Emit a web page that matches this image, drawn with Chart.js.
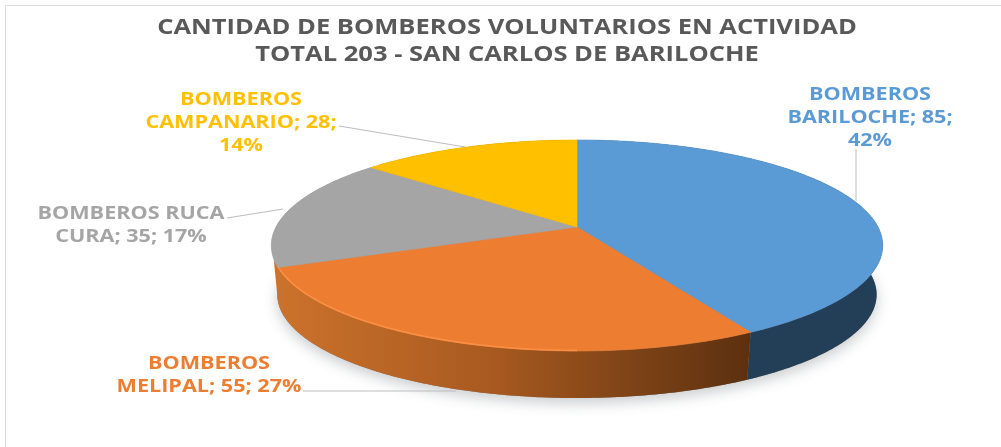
<!DOCTYPE html>
<html><head><meta charset="utf-8">
<style>html,body{margin:0;padding:0;background:#fff}canvas{display:block;filter:blur(0.45px)}</style>
<script src="https://cdn.jsdelivr.net/npm/chart.js@4"></script></head>
<body><canvas id="c" width="1001" height="447"></canvas>
<script>
const categories = ["BOMBEROS BARILOCHE","BOMBEROS MELIPAL","BOMBEROS RUCA CURA","BOMBEROS CAMPANARIO"];
const values = [85,55,35,28];
const percents = [42,27,17,14];
const titleLines = ["CANTIDAD DE BOMBEROS VOLUNTARIOS EN ACTIVIDAD","TOTAL 203 - SAN CARLOS DE BARILOCHE"];
const faceColors = ["#5B9BD5","#ED7D31","#A5A5A5","#FFC000"];
const labelWraps = [
  ["BOMBEROS","BARILOCHE; 85;","42%"],
  ["BOMBEROS","MELIPAL; 55; 27%"],
  ["BOMBEROS RUCA","CURA; 35; 17%"],
  ["BOMBEROS","CAMPANARIO; 28;","14%"]
];
const labelPlace = [{x:870,y:95},{x:209,y:364},{x:131,y:214},{x:241,y:100}];
const leaders = [[[856,149],[856,201]],[[303,391],[456,391]],[[227,218],[283,209]],[[339,126],[465,147]]];

// projected disc geometry
const CX=577, CY=227, A=301, B=102.3, K=0.175, DROP=49.5, SHRINK=0.98;
const TITLE_CX=507, TITLE_STRETCH=1.215, LABEL_STRETCH=1.2;
function rimTop(a){const u=Math.cos(a),v=Math.sin(a),d=1-K*v;return [CX+A*u/d,CY+B*v/d];}
function rimBot(a){const p=rimTop(a);return [CX+(p[0]-CX)*SHRINK,CY+(p[1]-CY)*SHRINK+DROP];}
function rimPath(ctx,fn,a0,a1,first){const n=Math.max(8,Math.ceil(Math.abs(a1-a0)*90));
  for(let i=0;i<=n;i++){const p=fn(a0+(a1-a0)*i/n);(first&&i===0)?ctx.moveTo(p[0],p[1]):ctx.lineTo(p[0],p[1]);}}

const pie3d={id:'pie3d',
  beforeDraw(chart){const c=chart.ctx;c.save();c.fillStyle='#fff';c.fillRect(0,0,chart.width,chart.height);
    c.strokeStyle='#dcdcdc';c.lineWidth=1;c.beginPath();c.moveTo(5.5,447);c.lineTo(5.5,5.5);c.lineTo(1001,5.5);c.stroke();c.restore();
    // the reference title is horizontally stretched
    c.save();c.translate(TITLE_CX,0);c.scale(TITLE_STRETCH,1);c.translate(-TITLE_CX,0);},
  beforeDatasetsDraw(chart){chart.ctx.restore();},
  beforeDatasetDraw(chart){
    const c=chart.ctx, arcs=chart.getDatasetMeta(0).data;
    c.save();
    // soft ground shadow
    c.save();c.shadowColor='rgba(60,70,80,0.28)';c.shadowBlur=14;c.shadowOffsetY=5;c.fillStyle='#888';
    c.beginPath();rimPath(c,rimBot,0,Math.PI*2,true);c.closePath();c.fill();c.restore();
    // walls, back to front
    const walls=[];
    let g=c.createLinearGradient(275,0,750,0);
    g.addColorStop(0,'#CC722C');g.addColorStop(0.45,'#A95A20');g.addColorStop(0.75,'#7E4317');g.addColorStop(1,'#5C300F');
    walls[0]='#233F58';walls[1]=g;
    g=c.createLinearGradient(271,0,280,0);g.addColorStop(0,'#B4BAC0');g.addColorStop(1,'#7C838A');
    walls[2]=g;walls[3]='#8A6A00';
    [3,2,0,1].forEach(i=>{
      const el=arcs[i], tail=(i===1)?0.16:0;
      c.fillStyle=walls[i];c.beginPath();
      rimPath(c,rimTop,el.startAngle,el.endAngle+tail/2,true);
      rimPath(c,rimBot,el.endAngle+tail,el.startAngle,false);
      c.closePath();c.fill();
    });
    // faces
    arcs.forEach((el,i)=>{
      c.fillStyle=faceColors[i];c.strokeStyle=faceColors[i];c.lineWidth=0.6;c.beginPath();c.moveTo(CX,CY);
      rimPath(c,rimTop,el.startAngle,el.endAngle,false);c.closePath();c.fill();c.stroke();
    });
    // bevel highlight on the near edge of the orange slice
    const o=arcs[1];
    c.strokeStyle='rgba(255,150,75,0.75)';c.lineWidth=1.6;c.beginPath();
    rimPath(c,(a)=>{const p=rimTop(a);return [p[0],p[1]-0.6];},Math.PI/2,o.endAngle,true);c.stroke();
    c.restore();
    return false;
  },
  afterDraw(chart){
    const c=chart.ctx;c.save();
    c.strokeStyle='#BDBDBD';c.lineWidth=1;
    leaders.forEach(l=>{c.beginPath();c.moveTo(l[0][0],l[0][1]);c.lineTo(l[1][0],l[1][1]);c.stroke();});
    c.font='bold 18px "Open Sans"';c.textAlign='center';c.textBaseline='middle';
    labelWraps.forEach((lines,i)=>{c.fillStyle=faceColors[i];
      lines.forEach((t,j)=>{c.save();c.translate(labelPlace[i].x,labelPlace[i].y+j*22.7);c.scale(LABEL_STRETCH,1);c.fillText(t,0,0);c.restore();});});
    c.restore();
  }
};

new Chart(document.getElementById('c'),{
  type:'pie',
  data:{labels:categories,datasets:[{data:values,backgroundColor:faceColors,borderWidth:0}]},
  plugins:[pie3d],
  options:{responsive:false,animation:false,devicePixelRatio:1,
    layout:{padding:{left:13}},
    plugins:{legend:{display:false},tooltip:{enabled:false},
      title:{display:true,text:titleLines,color:'#595959',padding:{top:14,bottom:10},
        font:{family:'"Open Sans"',weight:'bold',size:21,lineHeight:1.3}}}}
});
</script></body></html>
